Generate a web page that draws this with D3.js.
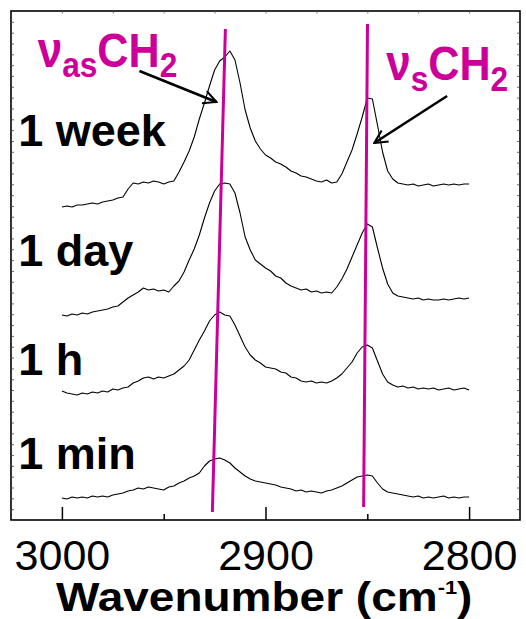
<!DOCTYPE html>
<html>
<head>
<meta charset="utf-8">
<script src="https://cdn.jsdelivr.net/npm/d3@7"></script>
<style>
  html, body { margin: 0; padding: 0; background: #fff; }
  svg { display: block; }
  text { font-family: "Liberation Sans", Arial, Helvetica, sans-serif; }
</style>
</head>
<body>
<svg id="chart" width="526" height="619"></svg>
<script>
// Sampling grid of the spectra (cm^-1), 2.5 cm^-1 steps from 3000 to 2800
const wavenumbers = d3.range(3000, 2799, -2.5);

// Offset IR absorbance traces (arbitrary units), one per immersion time
const absWeek = [313, 314, 313, 315, 315, 316, 317, 316, 318, 319,
  320, 322, 323, 331, 337, 336, 338, 337, 339, 338,
  336, 338, 339, 348, 358, 369, 383, 401, 417, 434,
  450, 459, 463, 469, 460, 437, 410, 392, 379, 371,
  365, 362, 358, 356, 353, 349, 347, 344, 343, 341,
  339, 338, 340, 337, 338, 346, 358, 370, 386, 403,
  422, 421, 395, 368, 349, 341, 337, 336, 335, 336,
  334, 335, 336, 334, 335, 336, 335, 336, 335, 336,
  336];
const absDay = [205, 204, 206, 205, 207, 206, 208, 209, 210, 211,
  213, 214, 218, 222, 225, 228, 232, 230, 231, 229,
  230, 228, 234, 239, 248, 260, 271, 285, 302, 317,
  329, 336, 337, 336, 327, 307, 283, 270, 260, 256,
  252, 249, 244, 242, 237, 234, 232, 230, 231, 228,
  229, 227, 228, 227, 233, 241, 251, 263, 275, 287,
  296, 293, 272, 252, 236, 227, 224, 223, 222, 221,
  222, 220, 221, 220, 220, 221, 220, 221, 222, 221,
  222];
const absHour = [129, 127, 126, 125, 127, 126, 128, 127, 129, 128,
  131, 130, 132, 133, 137, 139, 142, 143, 141, 143,
  142, 144, 146, 150, 154, 160, 170, 180, 189, 199,
  205, 208, 205, 204, 195, 184, 173, 165, 160, 157,
  153, 152, 151, 148, 147, 143, 142, 139, 138, 139,
  137, 138, 137, 139, 142, 146, 152, 158, 167, 173,
  175, 172, 159, 146, 138, 135, 133, 134, 132, 133,
  131, 132, 131, 132, 130, 131, 132, 130, 131, 132,
  130];
const absMin = [22, 21, 23, 22, 23, 22, 24, 23, 24, 23,
  25, 26, 27, 29, 30, 32, 31, 33, 32, 31,
  30, 33, 34, 37, 39, 42, 44, 47, 54, 59,
  61, 62, 60, 57, 52, 48, 44, 41, 39, 38,
  37, 36, 35, 33, 32, 31, 29, 30, 28, 29,
  28, 27, 29, 30, 32, 34, 37, 40, 43, 44,
  45, 44, 37, 31, 28, 27, 26, 25, 24, 23,
  24, 22, 23, 22, 23, 24, 22, 23, 22, 23,
  23];

const seriesNames = ["1 week", "1 day", "1 h", "1 min"];
const seriesValues = [absWeek, absDay, absHour, absMin];
// Baseline height where each time label sits (same units as the traces)
const labelLevels = [374, 254, 145, 51];
const labelWavenumber = 3021.5;

// Axis ticks
const majorTicks = [3000, 2900, 2800];
const minorTicks = [2950, 2850];
const topTicks = [3000, 2975, 2950, 2925, 2900, 2875, 2850, 2825, 2800];

// Peak-position guide lines (wavenumber, intensity) for the two CH2 stretches
const asymGuide = [[2919.7, 491], [2926.1, 8]];
const symGuide = [[2849.9, 496], [2851.8, 13]];

// Arrow annotations: [start, tip] as (wavenumber, intensity)
const asymArrow = [[2961.9, 449], [2924.1, 418]];
const symArrow = [[2810.8, 424], [2846.6, 377]];
const asymLabelPos = [3011.9, 453];
const symLabelPos = [2840.7, 440];

const magenta = "#cc0099";

const svg = d3.select("#chart");
const plotLeft = 11, plotRight = 520, plotTop = 11, plotBottom = 520;

const x = d3.scaleLinear().domain([3025, 2775]).range([plotLeft, plotRight]);
const y = d3.scaleLinear().domain([0, 509]).range([plotBottom, plotTop]);
const yTicks = d3.range(0, 509, 509 / 47);

// Frame
svg.append("rect")
  .attr("x", plotLeft).attr("y", plotTop)
  .attr("width", plotRight - plotLeft).attr("height", plotBottom - plotTop)
  .attr("fill", "none").attr("stroke", "#000").attr("stroke-width", 1.6);

// Bottom axis: major ticks with labels, inward
const xMajor = d3.axisBottom(x).tickValues(majorTicks)
  .tickSizeInner(-13).tickSizeOuter(0).tickPadding(19.5)
  .tickFormat(d3.format("d"));
const gx = svg.append("g").attr("transform", `translate(0,${plotBottom})`).call(xMajor);
gx.select(".domain").remove();
gx.selectAll(".tick line").attr("stroke", "#000").attr("stroke-width", 1.5);
gx.selectAll(".tick text")
  .attr("fill", "#000")
  .style("font-size", "43px")
  .style("font-family", "'Liberation Sans', Arial, sans-serif");

const xMinor = d3.axisBottom(x).tickValues(minorTicks)
  .tickSizeInner(-6).tickSizeOuter(0).tickFormat("");
const gxm = svg.append("g").attr("transform", `translate(0,${plotBottom})`).call(xMinor);
gxm.select(".domain").remove();
gxm.selectAll(".tick line").attr("stroke", "#000").attr("stroke-width", 1.5);

// Top axis small ticks
const xTop = d3.axisTop(x).tickValues(topTicks)
  .tickSizeInner(-2.5).tickSizeOuter(0).tickFormat("");
const gt = svg.append("g").attr("transform", `translate(0,${plotTop})`).call(xTop);
gt.select(".domain").remove();
gt.selectAll(".tick line").attr("stroke", "#555").attr("stroke-width", 0.8);

// Left and right small inward ticks
const yLeft = d3.axisLeft(y).tickValues(yTicks).tickSizeInner(-3).tickSizeOuter(0).tickFormat("");
const gl = svg.append("g").attr("transform", `translate(${plotLeft},0)`).call(yLeft);
gl.select(".domain").remove();
gl.selectAll(".tick line").attr("stroke", "#444").attr("stroke-width", 0.8);

const yRight = d3.axisRight(y).tickValues(yTicks).tickSizeInner(-3).tickSizeOuter(0).tickFormat("");
const gr = svg.append("g").attr("transform", `translate(${plotRight},0)`).call(yRight);
gr.select(".domain").remove();
gr.selectAll(".tick line").attr("stroke", "#444").attr("stroke-width", 0.8);

// Spectra
const line = d3.line()
  .x((d, i) => x(wavenumbers[i]))
  .y(d => y(d));

svg.append("g").selectAll("path.trace")
  .data(seriesValues)
  .join("path")
  .attr("class", "trace")
  .attr("d", d => line(d))
  .attr("fill", "none")
  .attr("stroke", "#000")
  .attr("stroke-width", 1.1)
  .attr("stroke-linejoin", "round");

// Time labels
svg.append("g").selectAll("text.time")
  .data(seriesNames)
  .join("text")
  .attr("class", "time")
  .attr("x", x(labelWavenumber))
  .attr("y", (d, i) => y(labelLevels[i]))
  .attr("font-size", 45)
  .attr("font-weight", "bold")
  .attr("fill", "#000")
  .text(d => d);

// Guide lines
const guideLine = d3.line().x(d => x(d[0])).y(d => y(d[1]));
[asymGuide, symGuide].forEach(g => {
  svg.append("path")
    .attr("d", guideLine(g))
    .attr("stroke", magenta)
    .attr("stroke-width", 3)
    .attr("fill", "none");
});

// Arrows with open heads
svg.append("defs").append("marker")
  .attr("id", "openHead")
  .attr("viewBox", "0 0 12 12")
  .attr("refX", 11).attr("refY", 6)
  .attr("markerWidth", 6).attr("markerHeight", 6)
  .attr("markerUnits", "strokeWidth")
  .attr("orient", "auto")
  .append("path")
  .attr("d", "M1,1 L11,6 L1,11")
  .attr("fill", "none")
  .attr("stroke", "#000")
  .attr("stroke-width", 1.6);

[asymArrow, symArrow].forEach(a => {
  svg.append("line")
    .attr("x1", x(a[0][0])).attr("y1", y(a[0][1]))
    .attr("x2", x(a[1][0])).attr("y2", y(a[1][1]))
    .attr("stroke", "#000")
    .attr("stroke-width", 2.6)
    .attr("marker-end", "url(#openHead)");
});

// Band labels (nu, subscript mode, CH, subscript 2), slightly condensed
function bandLabel(pos, sub, shift) {
  const t = svg.append("text")
    .attr("transform", `translate(${x(pos[0])},${y(pos[1])}) scale(0.88,1)`)
    .attr("fill", magenta)
    .attr("font-weight", "bold");
  t.append("tspan").attr("font-size", 50).text("ν");
  t.append("tspan").attr("font-size", 36).attr("dy", shift).text(sub);
  t.append("tspan").attr("font-size", 49).attr("dy", -shift).text("CH");
  t.append("tspan").attr("font-size", 36).attr("dy", shift).text("2");
}
bandLabel(asymLabelPos, "as", 10);
bandLabel(symLabelPos, "s", 11);

// Axis title
const title = svg.append("text")
  .attr("transform", "translate(56,611) scale(1.15,1)")
  .attr("font-size", 40)
  .attr("font-weight", "bold")
  .attr("fill", "#000");
title.append("tspan").text("Wavenumber (cm");
title.append("tspan").attr("font-size", 19).attr("dy", -17).text("-1");
title.append("tspan").attr("dy", 17).text(")");
</script>
</body>
</html>
